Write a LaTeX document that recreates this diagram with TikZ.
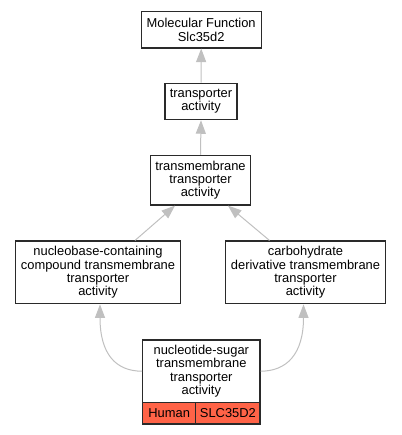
\documentclass[tikz,border=0pt]{standalone}
\usepackage{fontspec}
\setmainfont{Liberation Sans}
\usetikzlibrary{arrows.meta,calc}
\definecolor{edgegray}{HTML}{C0C0C0}
\definecolor{boxline}{HTML}{2A2A2A}
\definecolor{tomatofill}{HTML}{FF6347}
\tikzset{
  gobox/.style={draw=boxline, line width=1.2pt, fill=white, inner sep=0pt, align=center,
    font=\fontsize{12.9}{13.3}\selectfont},
  redcell/.style={gobox, fill=tomatofill},
  edge/.style={draw=edgegray, line width=1pt, -{Triangle[length=13.5pt,width=10pt,fill=edgegray]}}
}
\begin{document}
\begin{tikzpicture}[x=1pt,y=-1pt]
\useasboundingbox (0,0) rectangle (401,435);
\node[gobox, minimum width=120pt, minimum height=36.3pt] (mf) at (201.2,29.8) {Molecular Function\\Slc35d2};
\node[gobox, minimum width=72pt, minimum height=36.3pt] (ta) at (201,101.5) {transporter\\activity};
\node[gobox, minimum width=100.4pt, minimum height=49.7pt] (tm) at (200.5,180.2) {transmembrane\\transporter\\activity};
\node[gobox, minimum width=164.6pt, minimum height=62.7pt] (nb) at (98,272.4) {nucleobase-containing\\compound transmembrane\\transporter\\activity};
\node[gobox, minimum width=160.4pt, minimum height=62.7pt] (cd) at (305.5,272.4) {carbohydrate\\derivative transmembrane\\transporter\\activity};
\node[gobox, minimum width=117.3pt, minimum height=62.3pt] (nsu) at (201.3,371.2) {nucleotide-sugar\\transmembrane\\transporter\\activity};
\node[redcell, minimum width=53pt, minimum height=21.7pt] (human) at (169.2,413.2) {Human};
\node[redcell, minimum width=64.3pt, minimum height=21.7pt] (slc) at (227.9,413.2) {SLC35D2};

\draw[edge] (ta.north) -- (mf.south);
\draw[edge] (tm.north) -- (ta.south);
\draw[edge] ($(nb.north)+(37,0)$) -- ($(tm.south)+(-25.5,0)$);
\draw[edge] ($(cd.north)+(-36,0)$) -- ($(tm.south)+(27.5,0)$);
\draw[edge] (nsu.west) .. controls +(-26,0) and +(0,50) .. ($(nb.south)+(2,0)$);
\draw[edge] (nsu.east) .. controls +(26,0) and +(0,50) .. ($(cd.south)+(-2,0)$);
\end{tikzpicture}
\end{document}
